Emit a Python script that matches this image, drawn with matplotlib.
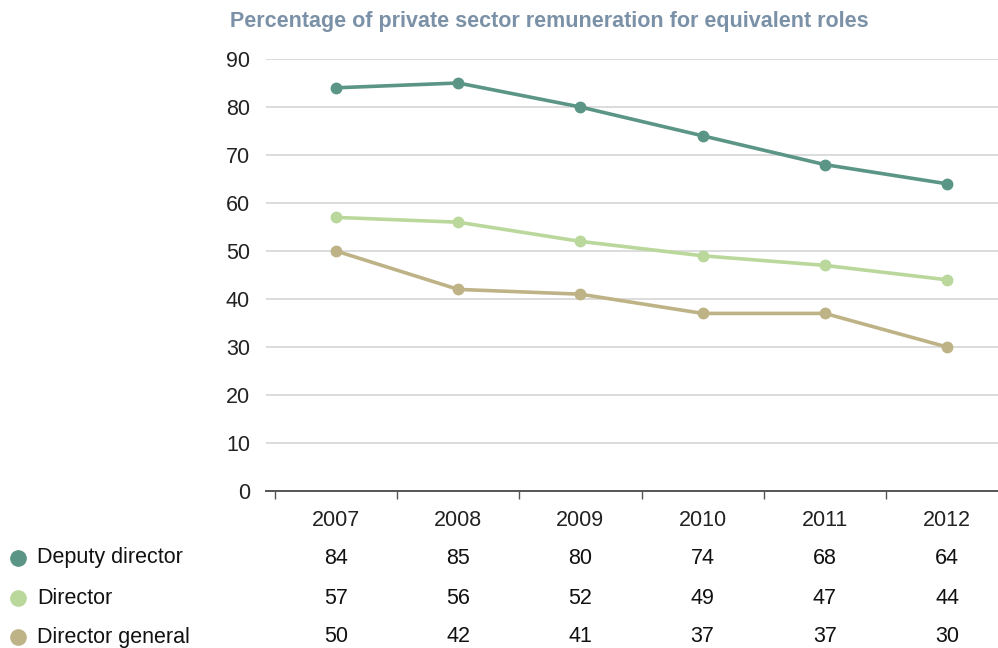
import matplotlib
matplotlib.use("Agg")
import matplotlib.pyplot as plt
from matplotlib.lines import Line2D

plt.rcParams['font.family'] = ['Liberation Sans', 'DejaVu Sans']

years = ["2007", "2008", "2009", "2010", "2011", "2012"]
deputy_director = [84, 85, 80, 74, 68, 64]
director = [57, 56, 52, 49, 47, 44]
director_general = [50, 42, 41, 37, 37, 30]

series = [
    ("Deputy director", deputy_director, "#5b9585"),
    ("Director", director, "#bad89c"),
    ("Director general", director_general, "#beb386"),
]

FS = 15.5
W, H = 998, 648
fig = plt.figure(figsize=(W / 100, H / 100), dpi=100)
ax = fig.add_axes([266 / W, (H - 491) / H, (W - 266) / W, (491 - 59) / H])

x = list(range(len(years)))
for name, vals, col in series:
    ax.plot(x, vals, color=col, lw=2.6, marker="o", ms=7.5, zorder=3,
            solid_capstyle="round")

ax.set_xlim(-0.573, 5.417)
ax.set_ylim(0, 90)
ax.set_yticks(range(0, 91, 10))
ax.set_xticks([i - 0.5 for i in x])
ax.set_xticklabels([])
ax.tick_params(axis="x", length=6, width=1, color="#555555", direction="out")
ax.tick_params(axis="y", length=0, pad=11.5, labelsize=FS, labelcolor="#222222")
ax.grid(axis="y", color="#d6d6d6", lw=1.2, zorder=0)
for s in ["top", "right", "left"]:
    ax.spines[s].set_visible(False)
ax.spines["bottom"].set_color("#555555")
ax.spines["bottom"].set_linewidth(1.4)
ax.spines["bottom"].set_zorder(4)

# year labels under the axis
for i, yr in enumerate(years):
    ax.annotate(yr, xy=(i, 0), xycoords="data", xytext=(0, -21),
                textcoords="offset points", ha="center", va="center",
                fontsize=FS, color="#222222", annotation_clip=False)

# data table below the chart
row_y = [558, 598, 637]
for (name, vals, col), ry in zip(series, row_y):
    fy = (H - ry) / H
    fig.add_artist(Line2D([18 / W], [fy], marker="o", ms=11, color=col,
                          mec=col, ls="none", transform=fig.transFigure))
    fig.text(37 / W, fy, name, fontsize=FS, color="#111111", ha="left",
             va="center")
    for i, v in enumerate(vals):
        xd = ax.transData.transform((i, 0))[0]
        fig.text(xd / W, fy, str(v), fontsize=FS, color="#111111",
                 ha="center", va="center")

fig.text(230 / W, (H - 21) / H,
         "Percentage of private sector remuneration for equivalent roles",
         fontsize=FS, fontweight="bold", color="#7b91a7", ha="left",
         va="center")

fig.savefig("out.png", dpi=100)
